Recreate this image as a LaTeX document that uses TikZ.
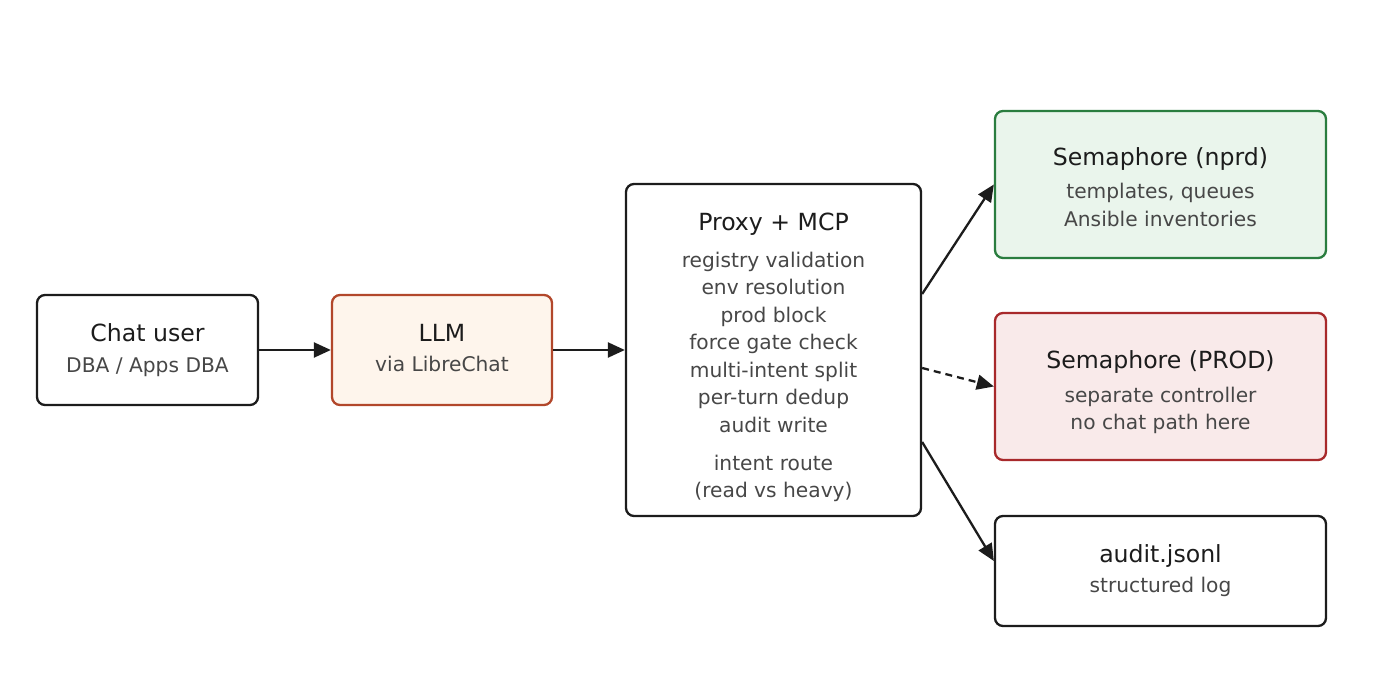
\documentclass[tikz,border=0pt]{standalone}
\usepackage{fontspec}
\setmainfont{DejaVu Sans}
\usetikzlibrary{arrows.meta,calc}
\definecolor{ink}{HTML}{1C1C1C}
\definecolor{subink}{HTML}{474747}
\definecolor{rust}{HTML}{B2472B}
\definecolor{rustfill}{HTML}{FEF5EC}
\definecolor{grn}{HTML}{2A7D3F}
\definecolor{grnfill}{HTML}{EAF5EC}
\definecolor{red}{HTML}{A8292B}
\definecolor{redfill}{HTML}{F9EAEA}
\tikzset{
  box/.style={draw=ink, fill=white, line width=2.3pt, rounded corners=8pt, rectangle, inner sep=0pt},
  ttl/.style={anchor=base, text=ink, inner sep=0pt, font=\fontsize{23.6}{28}\selectfont},
  sub/.style={anchor=base, text=subink, inner sep=0pt, font=\fontsize{20.2}{24}\selectfont},
  conn/.style={draw=ink, line width=2.3pt, -{Triangle[length=17pt,width=15pt]}},
}
\begin{document}
\begin{tikzpicture}[x=1pt,y=-1pt]
\useasboundingbox (0,0) rectangle (1400,700);
% boxes
\node[box, minimum width=221pt, minimum height=110pt] (chat) at (147.5,350) {};
\node[box, draw=rust, fill=rustfill, minimum width=220pt, minimum height=110pt] (llm) at (442,350) {};
\node[box, minimum width=295pt, minimum height=332pt] (proxy) at (773.5,350) {};
\node[box, draw=grn, fill=grnfill, minimum width=331pt, minimum height=147pt] (nprd) at (1160.5,184.5) {};
\node[box, draw=red, fill=redfill, minimum width=331pt, minimum height=147pt] (prod) at (1160.5,386.5) {};
\node[box, minimum width=331pt, minimum height=110pt] (audit) at (1160.5,571) {};
% texts
\node[ttl] (chatT) at (147.5,341.7) {Chat user};
\node[sub] (chatS) at (147.5,372.7) {DBA / Apps DBA};
\node[ttl] (llmT) at (442,341.7) {LLM};
\node[sub] (llmS) at (442,371.7) {via LibreChat};
\node[ttl] (proxyT) at (773.5,230.7) {Proxy + MCP};
\node[sub] (p1) at (773.5,267.3) {registry validation};
\node[sub] (p2) at (773.5,295) {env resolution};
\node[sub] (p3) at (773.5,322.3) {prod block};
\node[sub] (p4) at (773.5,350) {force gate check};
\node[sub] (p5) at (773.5,377.5) {multi-intent split};
\node[sub] (p6) at (773.5,405) {per-turn dedup};
\node[sub] (p7) at (773.5,432.5) {audit write};
\node[sub] (p8) at (773.5,470) {intent route};
\node[sub] (p9) at (773.5,497) {(read vs heavy)};
\node[ttl] (nprdT) at (1160.5,166) {Semaphore (nprd)};
\node[sub] (nprdS1) at (1160.5,199) {templates, queues};
\node[sub] (nprdS2) at (1160.5,226.7) {Ansible inventories};
\node[ttl] (prodT) at (1160.5,368.3) {Semaphore (PROD)};
\node[sub] (prodS1) at (1160.5,402.3) {separate controller};
\node[sub] (prodS2) at (1160.5,429.5) {no chat path here};
\node[ttl] (auditT) at (1160.5,562.7) {audit.jsonl};
\node[sub] (auditS) at (1160.5,592.7) {structured log};
% connectors
\coordinate (pA) at ($(proxy.east)+(0,-56)$);
\coordinate (pB) at ($(proxy.east)+(0,18)$);
\coordinate (pC) at ($(proxy.east)+(0,92)$);
\coordinate (aIn) at ($(audit.west)+(0,-10)$);
\draw[conn] (chat.east) -- (llm.west);
\draw[conn] (llm.west -| llm.east) -- (proxy.west);
\draw[conn] (pA) -- (nprd.west);
\draw[conn, dash pattern=on 7pt off 5pt] (pB) -- (prod.west);
\draw[conn] (pC) -- (aIn);
\end{tikzpicture}
\end{document}
